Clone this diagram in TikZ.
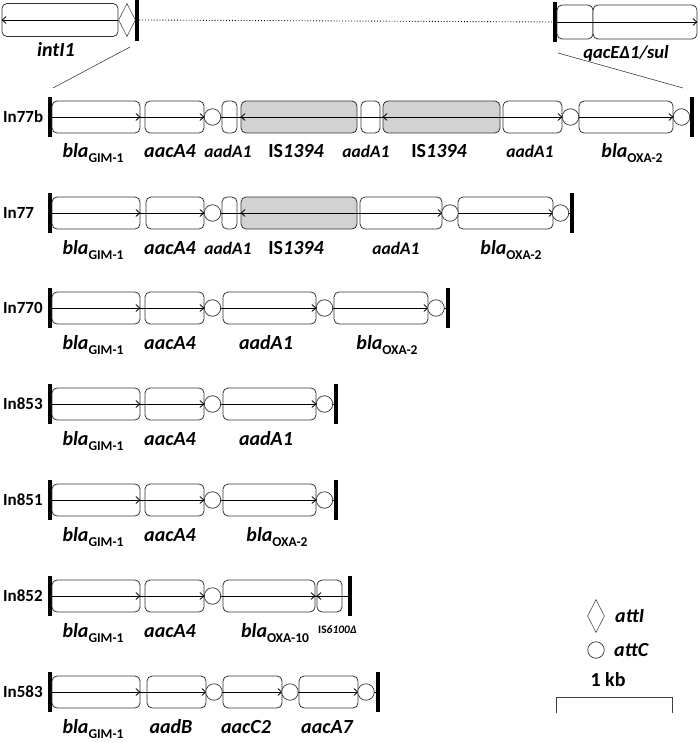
\documentclass[tikz,border=0pt]{standalone}
\usepackage{fontspec}
\setmainfont{Carlito}
\usetikzlibrary{arrows.meta,shapes.geometric}
\newcommand{\gbox}[5]{\node[#5, minimum width={(#3-#2)*1pt}] (#1) at ({(#2+#3)/2},#4) {};}
\newcommand{\bla}[1]{\textbf{\textit{bla}}\raisebox{-5pt}{\fontsize{13.5}{13.5}\selectfont\bfseries\upshape #1}}
\newcommand{\ISx}[1]{{\upshape IS}\textit{#1}}
\begin{document}
\begin{tikzpicture}[x=1pt,y=-1pt,
  gene/.style={draw=black!80, rounded corners=5pt, fill=white, minimum height=32pt, inner sep=0pt, line width=0.8pt},
  isbox/.style={gene, fill=gray!35},
  attc/.style={draw=black!80, circle, fill=white, minimum size=16.5pt, inner sep=0pt, line width=0.7pt},
  endbar/.style={fill=black, minimum width=4pt, minimum height=40pt, inner sep=0pt},
  diam/.style={draw=black!70, diamond, minimum width=17pt, minimum height=33pt, inner sep=0pt, line width=0.6pt},
  arr/.style={-{Straight Barb[length=4pt,width=7pt]}, line width=0.8pt},
  ln/.style={line width=0.8pt},
  thinl/.style={line width=0.6pt, black!75},
  lbl/.style={font=\fontsize{20}{20}\selectfont\bfseries\itshape, inner sep=0pt, anchor=base},
  slbl/.style={font=\fontsize{17.5}{17.5}\selectfont\bfseries\itshape, inner sep=0pt, anchor=base},
  rowlbl/.style={font=\fontsize{17}{17}\selectfont\bfseries, inner sep=0pt, anchor=west}
]
\useasboundingbox (0,0) rectangle (700,743);

% ---------- top: integron backbone ----------
\gbox{intI}{2}{118}{20}{gene, minimum height=33pt}
\node[diam] (attIdiam) at (127,20) {};
\node[endbar, minimum height=42pt] (tbL) at (137,20) {};
\node[endbar] (tbR) at (555,22) {};
\gbox{qacE}{557}{593}{22}{gene, minimum height=34pt}
\gbox{sul}{593}{697}{22}{gene, minimum height=34pt}
\draw[arr] (intI.east) -- (intI.west);
\draw[dotted, line width=0.9pt] (tbL.east) -- (tbR.west);
\draw[arr] (qacE.west) -- (sul.east);
\node[lbl] (lintI) at (56,57) {intI1};
\node[lbl, font=\fontsize{18.5}{18.5}\selectfont\bfseries\itshape] (lqac) at (626,59) {qacEΔ1/sul};
\coordinate (dA1) at (130,47); \coordinate (dA2) at (53,88);
\coordinate (dB1) at (558,53); \coordinate (dB2) at (683,88);
\draw[thinl] (dA1) -- (dA2);
\draw[thinl] (dB1) -- (dB2);

% ---------- In77b (y=117) ----------
\node[rowlbl] (n1) at (3,117) {In77b};
\node[endbar] (b1L) at (50,117) {};
\gbox{r1a}{52}{140}{117}{gene}
\gbox{r1b}{145}{204}{117}{gene}
\gbox{r1s1}{222}{237}{117}{gene}
\gbox{r1is1}{241}{357}{117}{isbox}
\gbox{r1s2}{361}{380}{117}{gene}
\gbox{r1is2}{383}{500}{117}{isbox}
\gbox{r1c}{503}{562}{117}{gene}
\gbox{r1d}{579}{673}{117}{gene}
\node[endbar] (b1R) at (692,117) {};
\draw[ln] (b1L.center) -- (b1R.center);
\draw[arr] (b1L.center) -- (r1a.east);
\draw[arr] (r1a.east) -- (r1b.east);
\draw[arr] (r1is1.east) -- (r1is1.west);
\draw[arr] (r1is2.east) -- (r1is2.west);
\draw[arr] (r1is2.east) -- (r1c.east);
\draw[arr] (r1c.east) -- (r1d.east);
\node[attc] (r1k1) at (212.5,117) {};
\node[attc] (r1k2) at (570.5,117) {};
\node[attc] (r1k3) at (681.5,117) {};
\node[lbl] (t1a) at (93,158) {\bla{GIM-1}};
\node[lbl] (t1b) at (170,158) {aacA4};
\node[slbl] (t1c) at (228,158) {aadA1};
\node[lbl] (t1d) at (296,158) {\ISx{1394}};
\node[slbl] (t1e) at (366,158) {aadA1};
\node[lbl] (t1f) at (439,158) {\ISx{1394}};
\node[slbl] (t1g) at (530,158) {aadA1};
\node[lbl] (t1h) at (632,158) {\bla{OXA-2}};

% ---------- In77 (y=213) ----------
\node[rowlbl] (n2) at (3,213) {In77};
\node[endbar] (b2L) at (50,213) {};
\gbox{r2a}{52}{140}{213}{gene}
\gbox{r2b}{146}{204}{213}{gene}
\gbox{r2s1}{222}{237}{213}{gene}
\gbox{r2is}{241}{357}{213}{isbox}
\gbox{r2c}{360}{442}{213}{gene}
\gbox{r2d}{458}{553}{213}{gene}
\node[endbar] (b2R) at (571.5,213) {};
\draw[ln] (b2L.center) -- (b2R.center);
\draw[arr] (b2L.center) -- (r2a.east);
\draw[arr] (r2a.east) -- (r2b.east);
\draw[arr] (r2is.east) -- (r2is.west);
\draw[arr] (r2is.east) -- (r2c.east);
\draw[arr] (r2c.east) -- (r2d.east);
\node[attc] (r2k1) at (212.5,213) {};
\node[attc] (r2k2) at (450,213) {};
\node[attc] (r2k3) at (560.5,213) {};
\node[lbl] (t2a) at (93,254) {\bla{GIM-1}};
\node[lbl] (t2b) at (170,254) {aacA4};
\node[slbl] (t2c) at (228,254) {aadA1};
\node[lbl] (t2d) at (296,254) {\ISx{1394}};
\node[slbl] (t2e) at (396,254) {aadA1};
\node[lbl] (t2f) at (511,254) {\bla{OXA-2}};

% ---------- In770 (y=308) ----------
\node[rowlbl] (n3) at (3,308) {In770};
\node[endbar] (b3L) at (50,308) {};
\gbox{r3a}{52}{140}{308}{gene}
\gbox{r3b}{145}{204}{308}{gene}
\gbox{r3c}{223}{316}{308}{gene}
\gbox{r3d}{334}{428}{308}{gene}
\node[endbar] (b3R) at (447.5,308) {};
\draw[ln] (b3L.center) -- (b3R.center);
\draw[arr] (b3L.center) -- (r3a.east);
\draw[arr] (r3a.east) -- (r3b.east);
\draw[arr] (r3c.west) -- (r3c.east);
\draw[arr] (r3d.west) -- (r3d.east);
\node[attc] (r3k1) at (212.5,308) {};
\node[attc] (r3k2) at (324.5,308) {};
\node[attc] (r3k3) at (436,308) {};
\node[lbl] (t3a) at (93,349) {\bla{GIM-1}};
\node[lbl] (t3b) at (170,349) {aacA4};
\node[lbl] (t3c) at (266,349) {aadA1};
\node[lbl] (t3d) at (387,349) {\bla{OXA-2}};

% ---------- In853 (y=404) ----------
\node[rowlbl] (n4) at (3,404) {In853};
\node[endbar] (b4L) at (50,404) {};
\gbox{r4a}{52}{140}{404}{gene}
\gbox{r4b}{145}{204}{404}{gene}
\gbox{r4c}{223}{316}{404}{gene}
\node[endbar] (b4R) at (336,404) {};
\draw[ln] (b4L.center) -- (b4R.center);
\draw[arr] (b4L.center) -- (r4a.east);
\draw[arr] (r4a.east) -- (r4b.east);
\draw[arr] (r4c.west) -- (r4c.east);
\node[attc] (r4k1) at (212.5,404) {};
\node[attc] (r4k2) at (324.5,404) {};
\node[lbl] (t4a) at (93,445) {\bla{GIM-1}};
\node[lbl] (t4b) at (170,445) {aacA4};
\node[lbl] (t4c) at (266,445) {aadA1};

% ---------- In851 (y=500) ----------
\node[rowlbl] (n5) at (3,500) {In851};
\node[endbar] (b5L) at (50,500) {};
\gbox{r5a}{52}{140}{500}{gene}
\gbox{r5b}{145}{204}{500}{gene}
\gbox{r5c}{223}{316}{500}{gene}
\node[endbar] (b5R) at (336,500) {};
\draw[ln] (b5L.center) -- (b5R.center);
\draw[arr] (b5L.center) -- (r5a.east);
\draw[arr] (r5a.east) -- (r5b.east);
\draw[arr] (r5c.west) -- (r5c.east);
\node[attc] (r5k1) at (212.5,500) {};
\node[attc] (r5k2) at (324.5,500) {};
\node[lbl] (t5a) at (93,541) {\bla{GIM-1}};
\node[lbl] (t5b) at (170,541) {aacA4};
\node[lbl] (t5c) at (277,541) {\bla{OXA-2}};

% ---------- In852 (y=596) ----------
\node[rowlbl] (n6) at (3,596) {In852};
\node[endbar] (b6L) at (50,596) {};
\gbox{r6a}{52}{140}{596}{gene}
\gbox{r6b}{145}{204}{596}{gene}
\gbox{r6c}{223}{315}{596}{gene}
\gbox{r6d}{317}{342}{596}{gene}
\node[endbar] (b6R) at (349.5,596) {};
\draw[ln] (b6L.center) -- (b6R.center);
\draw[arr] (b6L.center) -- (r6a.east);
\draw[arr] (r6a.east) -- (r6b.east);
\draw[arr] (r6c.west) -- (r6c.east);
\draw[arr] (r6d.east) -- (r6d.west);
\node[attc] (r6k1) at (212.5,596) {};
\node[lbl] (t6a) at (93,637) {\bla{GIM-1}};
\node[lbl] (t6b) at (170,637) {aacA4};
\node[lbl] (t6c) at (275,637) {\bla{OXA-10}};
\node[font=\fontsize{11.5}{11.5}\selectfont\bfseries, inner sep=0pt, anchor=base west] (t6d) at (318,633) {IS\textit{6100Δ}};

% ---------- In583 (y=692) ----------
\node[rowlbl] (n7) at (3,692) {In583};
\node[endbar] (b7L) at (50,692) {};
\gbox{r7a}{52}{140}{692}{gene}
\gbox{r7b}{147}{206}{692}{gene}
\gbox{r7c}{223}{282}{692}{gene}
\gbox{r7d}{299}{358}{692}{gene}
\node[endbar] (b7R) at (377.5,692) {};
\draw[ln] (b7L.center) -- (b7R.center);
\draw[arr] (b7L.center) -- (r7a.east);
\draw[arr] (r7a.east) -- (r7b.east);
\draw[arr] (r7c.west) -- (r7c.east);
\draw[arr] (r7d.west) -- (r7d.east);
\node[attc] (r7k1) at (214,692) {};
\node[attc] (r7k2) at (290,692) {};
\node[attc] (r7k3) at (366,692) {};
\node[lbl] (t7a) at (93,733) {\bla{GIM-1}};
\node[lbl] (t7b) at (171,733) {aadB};
\node[lbl] (t7c) at (246,733) {aacC2};
\node[lbl] (t7d) at (327,733) {aacA7};

% ---------- legend ----------
\node[diam] (lgd) at (596,616) {};
\node[lbl, anchor=west] (lgdt) at (615,616) {attI};
\node[attc] (lgc) at (596,650) {};
\node[lbl, anchor=west] (lgct) at (614,650) {attC};
\node[font=\fontsize{20}{20}\selectfont\bfseries, inner sep=0pt] (kb) at (608,680) {1 kb};
\coordinate (sb1) at (556,713); \coordinate (sb2) at (556,697);
\coordinate (sb3) at (672,697); \coordinate (sb4) at (672,713);
\draw[thinl] (sb1) -- (sb2) -- (sb3) -- (sb4);
\end{tikzpicture}
\end{document}
